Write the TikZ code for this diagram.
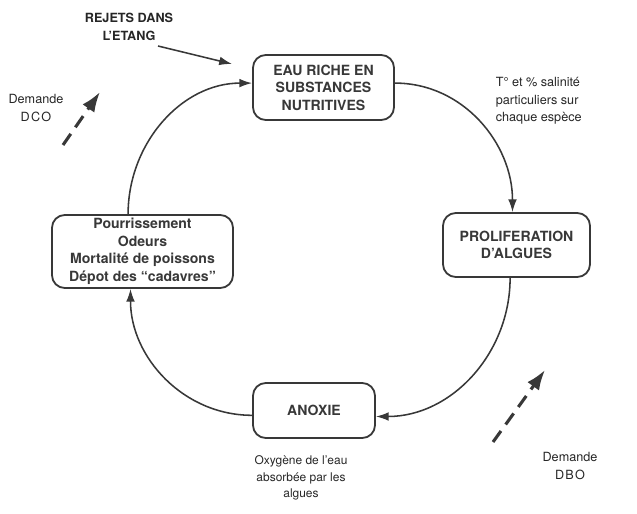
\documentclass[tikz,border=0pt]{standalone}
\usepackage{fontspec}
\setmainfont{TeX Gyre Heros}
\usetikzlibrary{arrows.meta}
\newcommand{\encre}{black!78}
\tikzset{every path/.style={line width=1.1pt}}
\tikzset{
  bloc/.style={draw=\encre, line width=1.3pt, rounded corners=0.32cm, align=center, text=\encre, inner sep=0pt, font=\bfseries\fontsize{10}{12.5}\selectfont},
  legende/.style={align=center, text=black!85, inner sep=0pt, font=\fontsize{9}{12.5}\selectfont},
  fleche/.style={draw=\encre, -{Latex[length=3.2mm,width=2.2mm]}},
  tiret/.style={draw=\encre, line width=2.2pt, dash pattern=on 3.4mm off 2mm, -{Latex[length=5mm,width=3.6mm]}}
}

\begin{document}
\begin{tikzpicture}[x=0.025cm,y=-0.025cm]
\useasboundingbox (0,0) rectangle (637,513);
\node[bloc, minimum width=3.525cm, minimum height=1.625cm] (eau) at (323.5,87.5) {EAU RICHE EN\\SUBSTANCES\\NUTRITIVES};
\node[bloc, minimum width=3.675cm, minimum height=1.6cm] (prol) at (516.5,245) {PROLIFERATION\\D'ALGUES};
\node[bloc, minimum width=3.05cm, minimum height=1.375cm] (anoxie) at (314,410.5) {ANOXIE};
\node[bloc, minimum width=4.525cm, minimum height=1.825cm] (pourr) at (142.5,251.5) {Pourrissement\\Odeurs\\Mortalité de poissons\\Dépot des ``cadavres''};
\node[legende, font=\bfseries\fontsize{9}{12.8}\selectfont] (rejets) at (129,27) {REJETS DANS\\L'ETANG};
\node[legende] (dco) at (36,108) {Demande\\\addfontfeature{LetterSpace=10}DCO};
\node[legende, align=left, anchor=west] (temp) at (495,101) {T° et \% salinité\\particuliers sur\\chaque espèce};
\node[legende] (dbo) at (570,466) {Demande\\\addfontfeature{LetterSpace=10}DBO};
\node[legende, font=\fontsize{8.5}{11.5}\selectfont] (oxy) at (301,478) {Oxygène de l'eau\\absorbée par les\\algues};
\coordinate (rejA) at (158,46);
\coordinate (rejB) at (232,64);
\coordinate (dcoA) at (63,145);
\coordinate (dcoB) at (100,92);
\coordinate (dboA) at (493,442);
\coordinate (dboB) at (545,370);
\draw[fleche] ([yshift=0.11cm]eau.east) to[out=0,in=90] ([xshift=-0.1cm]prol.north);
\draw[fleche] ([xshift=-0.16cm]prol.south) to[out=-90,in=0] ([yshift=-0.15cm]anoxie.east);
\draw[fleche] ([yshift=-0.12cm]anoxie.west) to[out=180,in=-90] ([xshift=-0.3cm]pourr.south);
\draw[fleche] ([xshift=-0.36cm]pourr.north) to[out=90,in=180] ([yshift=0.11cm]eau.west);
\draw[fleche] (rejA) -- (rejB);
\draw[tiret] (dcoA) -- (dcoB);
\draw[tiret] (dboA) -- (dboB);
\end{tikzpicture}
\end{document}
